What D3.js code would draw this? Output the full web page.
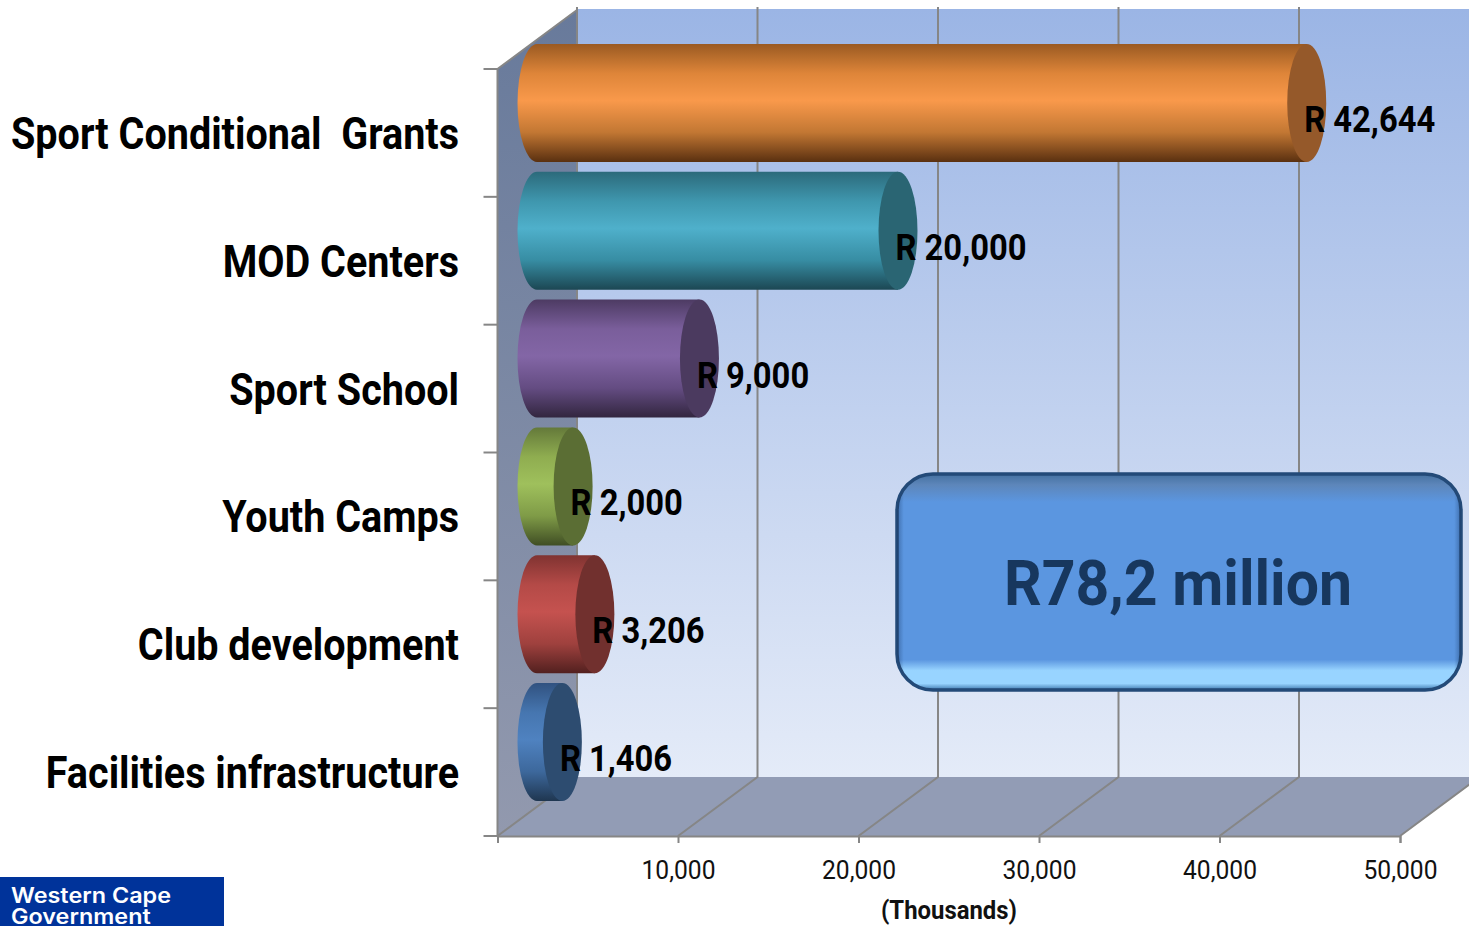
<!DOCTYPE html>
<html lang="en">
<head>
<meta charset="UTF-8">
<title>Sport budget</title>
<script src="https://d3js.org/d3.v7.min.js"></script>
<style>
  html, body { margin: 0; padding: 0; background: #fff; overflow: hidden; }
  svg { display: block; }
  text { font-family: Roboto, "Liberation Sans", sans-serif; }
</style>
</head>
<body>
<div id="chart"></div>
<script>
const categories = ["Sport Conditional  Grants", "MOD Centers", "Sport School", "Youth Camps", "Club development", "Facilities infrastructure"];
const values = [42644, 20000, 9000, 2000, 3206, 1406];
const valueLabels = ["R 42,644", "R 20,000", "R 9,000", "R 2,000", "R 3,206", "R 1,406"];
const xTicks = [0, 10000, 20000, 30000, 40000, 50000];
const totalLabel = "R78,2 million";
const unitLabel = "(Thousands)";
const logoLines = ["Western Cape", "Government"];

// [dark edge, mid, highlight, low mid, bottom edge, end cap]
const palette = [
  ["#9a5a22", "#de8539", "#f9994b", "#c27733", "#5a3010", "#95592a"],
  ["#2c6a7b", "#3f97ae", "#4fb0cb", "#378da3", "#1c4753", "#2a6573"],
  ["#4d3b63", "#7a5e9b", "#8366a6", "#644c82", "#32263f", "#4b3a5f"],
  ["#64793a", "#8fad50", "#9fc05c", "#7f9b47", "#404e24", "#5b6e34"],
  ["#803331", "#b44a47", "#c5524f", "#9f413e", "#52201f", "#71302e"],
  ["#315280", "#4676b0", "#4f82c0", "#3d689c", "#1f3650", "#2d4c70"]
];

const W = 1469, H = 926;
const dx = 79.5, dy = -59;     // depth of the 3d box
const midX = 39.5, midY = -30; // where the bars sit inside that depth
const rx = 19.5;

const svg = d3.select("#chart").append("svg").attr("width", W).attr("height", H);
const defs = svg.append("defs");

const x = d3.scaleLinear().domain([0, 50000]).range([497.5, 1400]);
const y = d3.scaleBand().domain(categories).range([69, 836]).paddingInner(0.077).paddingOuter(0.0385);
const yTop = y.range()[0], yBottom = y.range()[1];
const gridColor = "#868686";

// no condensed face is installed, so squeeze the glyphs: first text sets the factor for its group
function squeeze(sel, firstWidth) {
  const nodes = sel.nodes();
  const factor = firstWidth / nodes[0].getComputedTextLength();
  nodes.forEach(n => {
    n.setAttribute("textLength", n.getComputedTextLength() * factor);
    n.setAttribute("lengthAdjust", "spacingAndGlyphs");
  });
}

const wallGrad = defs.append("linearGradient").attr("id", "wall").attr("x1", 0).attr("x2", 0).attr("y1", 0).attr("y2", 1);
wallGrad.append("stop").attr("offset", 0).attr("stop-color", "#9bb5e5");
wallGrad.append("stop").attr("offset", 1).attr("stop-color", "#e4ebf8");
const sideGrad = defs.append("linearGradient").attr("id", "side").attr("x1", 0).attr("x2", 0).attr("y1", 0).attr("y2", 1);
sideGrad.append("stop").attr("offset", 0).attr("stop-color", "#687a9b");
sideGrad.append("stop").attr("offset", 1).attr("stop-color", "#9299ae");

// back wall, side wall, floor
svg.append("rect").attr("x", x(0) + dx).attr("y", yTop + dy - 1).attr("width", W - x(0) - dx).attr("height", yBottom - yTop + 1).attr("fill", "url(#wall)");
svg.append("path")
  .attr("d", `M${x(0)},${yTop}L${x(0) + dx},${yTop + dy}V${yBottom + dy}L${x(0)},${yBottom}Z`)
  .attr("fill", "url(#side)");
svg.append("path")
  .attr("d", `M${x(0)},${yBottom}L${x(0) + dx},${yBottom + dy}H${x(50000) + dx}L${x(50000)},${yBottom}Z`)
  .attr("fill", "#929cb5");

// gridlines go over the floor then up the back wall
svg.append("g").selectAll("path").data(xTicks).join("path")
  .attr("d", d => `M${x(d)},${yBottom}L${x(d) + dx},${yBottom + dy}V${yTop + dy - 3}`)
  .attr("fill", "none").attr("stroke", gridColor).attr("stroke-width", 2);
svg.append("path")
  .attr("d", `M${x(0)},${yBottom}V${yTop}L${x(0) + dx},${yTop + dy}`)
  .attr("fill", "none").attr("stroke", gridColor).attr("stroke-width", 2);

// x axis
const xAxis = svg.append("g").attr("transform", `translate(0,${yBottom})`)
  .call(d3.axisBottom(x).tickValues(xTicks).tickSize(7).tickPadding(18).tickFormat(d => d === 0 ? "" : d3.format(",")(d)));
xAxis.select(".domain").attr("stroke", gridColor).attr("stroke-width", 2);
xAxis.selectAll("line").attr("stroke", gridColor).attr("stroke-width", 2);
const tickText = xAxis.selectAll("text").filter(d => d !== 0)
  .attr("font-size", 25).attr("fill", "#111").attr("font-family", "Roboto");
squeeze(tickText, 74);

// y axis: ticks fall between the categories
svg.append("g").selectAll("line").data(d3.range(categories.length + 1)).join("line")
  .attr("x1", x(0) - 14).attr("x2", x(0))
  .attr("y1", i => yTop + i * (yBottom - yTop) / categories.length)
  .attr("y2", i => yTop + i * (yBottom - yTop) / categories.length)
  .attr("stroke", gridColor).attr("stroke-width", 2);

const catText = svg.append("g").selectAll("text").data(categories).join("text")
  .attr("x", 459)
  .attr("y", d => y(d) + y.bandwidth() / 2 + 16)
  .attr("text-anchor", "end")
  .attr("font-size", 44).attr("font-weight", 700).attr("fill", "#000")
  .style("white-space", "pre")
  .text(d => d);
squeeze(catText, 448);

// cylinders
palette.forEach((c, i) => {
  const g = defs.append("linearGradient").attr("id", "bar" + i).attr("x1", 0).attr("x2", 0).attr("y1", 0).attr("y2", 1);
  [[0, c[0]], [0.25, c[1]], [0.48, c[2]], [0.75, c[3]], [1, c[4]]].forEach(s =>
    g.append("stop").attr("offset", s[0]).attr("stop-color", s[1]));
});

const bars = svg.append("g").selectAll("g").data(categories).join("g");
const ry = y.bandwidth() / 2;
bars.append("path")
  .attr("d", (d, i) => {
    const x0 = x(0) + midX, x1 = x(values[i]) + midX;
    const t = y(d) + midY, b = t + y.bandwidth();
    return `M${x1},${t}H${x0}A${rx},${ry} 0 0 0 ${x0},${b}H${x1}Z`;
  })
  .attr("fill", (d, i) => `url(#bar${i})`);
bars.append("ellipse")
  .attr("cx", (d, i) => x(values[i]) + midX)
  .attr("cy", d => y(d) + midY + ry)
  .attr("rx", rx).attr("ry", ry)
  .attr("fill", (d, i) => palette[i][5]);

const valueText = svg.append("g").selectAll("text").data(valueLabels).join("text")
  .attr("x", (d, i) => x(values[i]) + 37)
  .attr("y", (d, i) => y(categories[i]) + midY + ry + 29)
  .attr("font-size", 36).attr("font-weight", 700).attr("fill", "#000")
  .text(d => d);
squeeze(valueText, 131);

const unitText = svg.append("text").attr("x", 949).attr("y", 919).attr("text-anchor", "middle")
  .attr("font-size", 25).attr("font-weight", 700).attr("fill", "#111").text(unitLabel);
squeeze(unitText, 136);

// total box
const boxGrad = defs.append("linearGradient").attr("id", "box").attr("x1", 0).attr("x2", 0).attr("y1", 0).attr("y2", 1);
[[0, "#44709f"], [0.05, "#5d86ba"], [0.13, "#5b96e0"], [0.86, "#5b96e0"], [0.91, "#98d4ff"], [0.97, "#98d4ff"], [1, "#3c75ab"]]
  .forEach(s => boxGrad.append("stop").attr("offset", s[0]).attr("stop-color", s[1]));
const boxSide = defs.append("linearGradient").attr("id", "boxSide");
[[0, 0.45], [0.012, 0], [0.988, 0], [1, 0.45]]
  .forEach(s => boxSide.append("stop").attr("offset", s[0]).attr("stop-color", "#1c3d6b").attr("stop-opacity", s[1]));
svg.append("rect").attr("x", 897).attr("y", 474).attr("width", 564).attr("height", 216).attr("rx", 36)
  .attr("fill", "url(#box)").attr("stroke", "#234a78").attr("stroke-width", 3.5);
svg.append("rect").attr("x", 897).attr("y", 474).attr("width", 564).attr("height", 216).attr("rx", 36)
  .attr("fill", "url(#boxSide)");
const totalText = svg.append("text").attr("x", 1178).attr("y", 605).attr("text-anchor", "middle")
  .attr("font-size", 63).attr("font-weight", 700).attr("fill", "#17375e").text(totalLabel);
squeeze(totalText, 348);

// logo
svg.append("rect").attr("x", 0).attr("y", 877).attr("width", 224).attr("height", 49).attr("fill", "#00339a");
const logoText = svg.append("g").selectAll("text").data(logoLines).join("text")
  .attr("x", 11).attr("y", (d, i) => 903 + i * 21)
  .attr("font-size", 21).attr("font-weight", 600).attr("fill", "#fff")
  .style("font-family", "Inter, sans-serif")
  .text(d => d);
squeeze(logoText, 160);
</script>
</body>
</html>
